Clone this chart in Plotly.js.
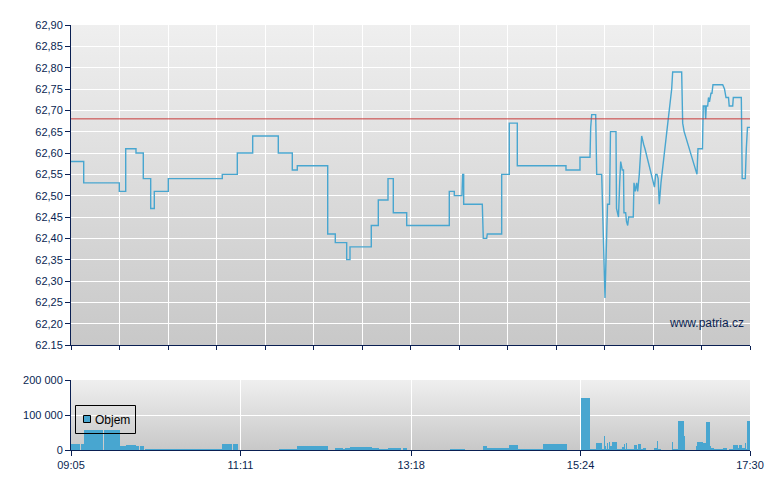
<!DOCTYPE html>
<html><head><meta charset="utf-8">
<script src="https://cdn.plot.ly/plotly-3.0.1.min.js"></script>
<style>html,body{margin:0;padding:0;background:#fff}#chart{width:780px;height:490px}</style>
</head><body><div id="chart"></div>
<script>
const DAY = '2024-01-01 ';
const sessionStart = '09:05:00';
const sessionEnd = '17:30:00';

const priceTimes = [
'09:05:00','09:14:27','09:14:27','09:40:55','09:40:55','09:45:41','09:45:41','09:53:20','09:53:20','09:58:46',
'09:58:46','10:04:16','10:04:16','10:06:57','10:06:57','10:17:22','10:17:22','10:57:31','10:57:31','11:08:41',
'11:08:41','11:20:08','11:20:08','11:39:10','11:39:10','11:49:35','11:49:35','11:53:18','11:53:18','12:15:55',
'12:15:55','12:21:34','12:21:34','12:30:02','12:30:02','12:32:30','12:32:30','12:48:20','12:48:20','12:53:33',
'12:53:33','13:00:46','13:00:46','13:04:42','13:04:42','13:14:40','13:14:40','13:46:21','13:46:21','13:50:04',
'13:50:04','13:55:47','13:56:19','13:57:03','13:57:03','14:10:54','14:11:38','14:14:10','14:14:37','14:25:19',
'14:25:19','14:30:58','14:30:58','14:36:56','14:36:56','15:13:08','15:13:08','15:23:33','15:23:33','15:31:00',
'15:31:31','15:32:16','15:35:14','15:35:59','15:39:42','15:42:09','15:44:01','15:45:30','15:46:14','15:50:20',
'15:50:42','15:52:11','15:53:05','15:53:49','15:55:01','15:55:54','15:56:16','15:57:32','15:58:08','15:59:02',
'15:59:46','16:03:11','16:03:43','16:04:41','16:05:43','16:06:28','16:07:39','16:09:26','16:10:55','16:11:53',
'16:18:57','16:19:51','16:20:49','16:21:42','16:22:31','16:23:47','16:31:45','16:32:29','16:39:11','16:39:56',
'16:41:02','16:50:34','16:51:18','16:54:39','16:55:14','16:56:31','16:57:02','16:57:29','16:58:31','16:59:07',
'16:59:52','17:00:59','17:01:43','17:02:28','17:09:42','17:11:02','17:12:09','17:14:01','17:14:32','17:17:08',
'17:17:35','17:23:32','17:24:12','17:26:30','17:27:15','17:28:08','17:30:00'];
const prices = [
62.58,62.58,62.53,62.53,62.51,62.51,62.61,62.61,62.60,62.60,
62.54,62.54,62.47,62.47,62.51,62.51,62.54,62.54,62.55,62.55,
62.60,62.60,62.64,62.64,62.60,62.60,62.56,62.56,62.57,62.57,
62.41,62.41,62.39,62.39,62.35,62.35,62.38,62.38,62.43,62.43,
62.49,62.49,62.54,62.54,62.46,62.46,62.43,62.43,62.51,62.51,
62.50,62.50,62.55,62.55,62.48,62.48,62.40,62.40,62.41,62.41,
62.55,62.55,62.67,62.67,62.57,62.57,62.56,62.56,62.59,62.59,
62.66,62.69,62.69,62.55,62.55,62.26,62.48,62.48,62.65,62.65,
62.47,62.45,62.53,62.58,62.56,62.56,62.46,62.46,62.44,62.43,
62.45,62.45,62.53,62.51,62.53,62.51,62.55,62.64,62.62,62.61,
62.52,62.55,62.55,62.54,62.48,62.53,62.75,62.79,62.79,62.67,
62.65,62.55,62.61,62.61,62.71,62.71,62.68,62.71,62.71,62.73,
62.72,62.74,62.74,62.76,62.76,62.75,62.73,62.73,62.71,62.71,
62.73,62.73,62.54,62.54,62.61,62.66,62.66];
const refPrice = 62.68;

const volTimes = [
'09:05:00','09:11:41','09:12:26','09:14:40','09:28:48','09:29:19','09:41:26','09:45:55','09:53:20','09:55:48',
'09:56:19','09:58:20','09:58:46','09:59:31','10:00:02','10:57:05','11:04:58','11:05:29','11:08:59','11:39:28',
'11:52:52','12:15:55','12:21:21','12:27:31','12:29:01','12:32:30','12:48:38','12:54:04','13:00:32','13:10:26',
'13:11:42','13:14:40','13:46:53','13:58:02','14:11:25','14:14:10','14:30:46','14:37:14','14:43:24','14:45:52',
'14:56:03','15:13:40','15:24:19','15:31:00','15:35:28','15:39:56','15:41:25','15:41:56','15:42:54','15:43:39',
'15:44:23','15:45:08','15:45:53','15:47:22','15:51:05','15:54:48','15:56:31','15:57:15','15:57:47','15:58:31',
'16:03:44','16:05:44','16:06:42','16:08:56','16:10:38','16:12:39','16:18:36','16:20:37','16:21:21','16:23:35',
'16:31:59','16:32:44','16:36:27','16:40:41','16:41:26','16:49:50','16:50:35','16:55:02','16:57:16','17:00:15',
'17:00:59','17:03:13','17:10:08','17:12:40','17:14:23','17:17:21','17:21:04','17:21:49','17:24:03','17:26:03',
'17:26:48','17:27:46'];
const volumes = [
17000,0,17000,57000,0,57000,11000,14000,11000,0,
11000,0,11000,0,3000,17000,0,17000,0,3000,
11000,0,6000,3000,6000,9000,6000,3000,6000,0,
6000,0,3000,0,11000,6000,14000,3000,2000,3000,
17000,0,150000,3000,20000,3000,40000,11000,3000,20000,
3000,23000,11000,23000,3000,9000,17000,3000,20000,3000,
14000,3000,17000,3000,6000,0,6000,26000,3000,0,
24000,3000,84000,40000,0,11000,23000,20000,81000,11000,
6000,3000,6000,0,3000,14000,6000,14000,6000,20000,
3000,84000];
const volName = 'Objem';

const priceTickVals = [62.15,62.20,62.25,62.30,62.35,62.40,62.45,62.50,62.55,62.60,62.65,62.70,62.75,62.80,62.85,62.90];
const priceTickText = ['62.15','62,20','62,25','62,30','62,35','62,40','62,45','62,50','62,55','62,60','62,65','62,70','62,75','62,80','62,85','62,90'];
const volTickVals = [0,100000,200000];
const volTickText = ['0','100 000','200 000'];
const timeTickLabels = ['09:05','11:11','13:18','15:24','17:30'];

const NAVY = '#0a1f52';
const BLUE = '#48a6d0';
function ms(t){const p=t.split(':').map(Number);return ((p[0]*60+p[1])*60+(p[2]||0))*1000;}
const volWidths = volTimes.map((t,i)=> ms(i+1<volTimes.length?volTimes[i+1]:sessionEnd) - ms(t));

const grad = 'data:image/svg+xml;charset=utf-8,' + encodeURIComponent('<svg xmlns="http://www.w3.org/2000/svg" width="10" height="100" viewBox="0 0 10 100" preserveAspectRatio="none"><defs><linearGradient id="g" x1="0" y1="0" x2="0" y2="1"><stop offset="0" stop-color="#efefef"/><stop offset="1" stop-color="#c8c8c8"/></linearGradient></defs><rect width="10" height="100" fill="url(#g)"/></svg>');

const range = [DAY+sessionStart, DAY+sessionEnd];
const spanMs = ms(sessionEnd)-ms(sessionStart);

// paper-coordinate helpers for the legend box (plot area 71..750 x 25..450 px)
const W = 679, H = 425;
const px = v => (v-71)/W, py = v => (450-v)/H;

const traces = [
 {type:'scatter', mode:'lines', x:priceTimes.map(t=>DAY+t), y:prices, xaxis:'x', yaxis:'y',
  line:{color:BLUE, width:1.4}, showlegend:false, hoverinfo:'skip'},
 {type:'bar', name:volName, x:volTimes.map(t=>DAY+t), y:volumes, width:volWidths, offset:0, xaxis:'x2', yaxis:'y2',
  marker:{color:BLUE, line:{width:0}}, showlegend:false, hoverinfo:'skip'}
];

const axFont = {family:'"Liberation Sans", Arial, sans-serif', size:11, color:NAVY};
const layout = {
 width:780, height:490,
 margin:{l:71, r:30, t:25, b:40, pad:0},
 paper_bgcolor:'#ffffff', plot_bgcolor:'#dcdcdc',
 font:{family:'"Liberation Sans", Arial, sans-serif', size:11, color:NAVY},
 showlegend:false,
 xaxis:{type:'date', anchor:'y', range:range, tickmode:'linear', tick0:DAY+sessionStart, dtick:spanMs/14,
   showticklabels:false, showgrid:true, gridcolor:'#ffffff', gridwidth:1, showline:true, linecolor:NAVY, linewidth:1,
   ticks:'outside', ticklen:4, tickcolor:NAVY, zeroline:false, fixedrange:true},
 yaxis:{domain:[105/425,1], anchor:'x', range:[62.15,62.90], tickmode:'array', tickvals:priceTickVals, ticktext:priceTickText,
   showgrid:true, gridcolor:'#ffffff', gridwidth:1, showline:true, linecolor:NAVY, linewidth:1,
   ticks:'outside', ticklen:5, tickcolor:NAVY, tickfont:axFont, zeroline:false, fixedrange:true},
 xaxis2:{type:'date', anchor:'y2', range:range, tickmode:'array', tickvals:timeTickLabels.map(t=>DAY+t), ticktext:timeTickLabels,
   showgrid:true, gridcolor:'#ffffff', gridwidth:1, showline:true, linecolor:NAVY, linewidth:1,
   ticks:'outside', ticklen:5, tickcolor:NAVY, tickfont:axFont, zeroline:false, fixedrange:true},
 yaxis2:{domain:[0,70/425], anchor:'x2', range:[0,200000], tickmode:'array', tickvals:volTickVals, ticktext:volTickText,
   showgrid:true, gridcolor:'#ffffff', gridwidth:1, showline:true, linecolor:NAVY, linewidth:1,
   ticks:'outside', ticklen:5, tickcolor:NAVY, tickfont:axFont, zeroline:false, fixedrange:true},
 images:[
  {source:grad, xref:'x domain', yref:'y domain', x:0, y:1, sizex:1, sizey:1, sizing:'stretch', xanchor:'left', yanchor:'top', layer:'below'},
  {source:grad, xref:'x2 domain', yref:'y2 domain', x:0, y:1, sizex:1, sizey:1, sizing:'stretch', xanchor:'left', yanchor:'top', layer:'below'}
 ],
 shapes:[
  {type:'line', xref:'x domain', x0:0, x1:1, yref:'y', y0:refPrice, y1:refPrice, line:{color:'#c83a3a', width:1}},
  {type:'rect', xref:'paper', yref:'paper', x0:px(75.5), x1:px(135.5), y0:py(405.5), y1:py(433.5),
   line:{color:'#000', width:1}, fillcolor:'rgba(0,0,0,0)'},
  {type:'rect', xref:'paper', yref:'paper', x0:px(83.5), x1:px(90.5), y0:py(415.5), y1:py(422.5),
   line:{color:'#000', width:1}, fillcolor:BLUE}
 ],
 annotations:[
  {text:'www.patria.cz', xref:'x domain', x:0.994, xanchor:'right', yref:'y', y:62.201, yanchor:'middle', showarrow:false,
   font:{size:12, color:NAVY}},
  {text:volName, xref:'paper', yref:'paper', x:px(93), xanchor:'left', y:py(419.5), yanchor:'middle', showarrow:false,
   font:{size:12, color:'#000'}}
 ],
 barmode:'overlay', bargap:0
};
Plotly.newPlot('chart', traces, layout, {staticPlot:true, displayModeBar:false});
</script>
</body></html>
